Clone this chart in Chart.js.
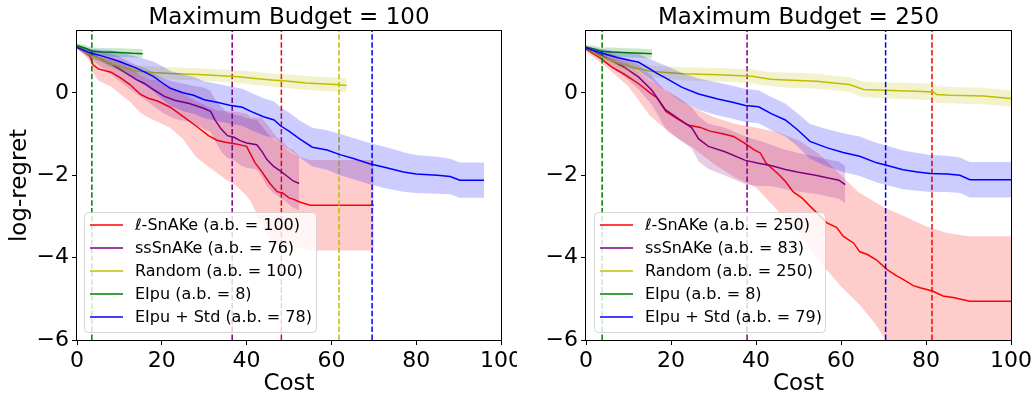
<!DOCTYPE html>
<html><head><meta charset="utf-8">
<script src="https://cdn.jsdelivr.net/npm/chart.js@4.4.0/dist/chart.umd.min.js"></script>
<style>
html,body{margin:0;padding:0;background:#fff;overflow:hidden}
#wrap{position:relative;width:1034px;height:393px;background:#fff}
canvas{position:absolute;top:0}
</style></head>
<body><div id="wrap">
<canvas id="c1" width="517" height="393" style="left:0"></canvas>
<canvas id="c2" width="517" height="393" style="left:517px"></canvas>
</div>
<script>
// ---------- axes ----------
const X_TICKS = [0, 20, 40, 60, 80, 100];
const Y_TICKS = [-6, -4, -2, 0];
const Y_MIN = -6, Y_MAX = 1.5;

// ---------- LEFT: Maximum Budget = 100 ----------
const L_TITLE = 'Maximum Budget = 100';
const L_LABELS = ['\u2113-SnAKe (a.b. = 100)', 'ssSnAKe (a.b. = 76)', 'Random (a.b. = 100)', 'EIpu (a.b. = 8)', 'EIpu + Std (a.b. = 78)'];
const L_VLINES = [48.2, 36.6, 61.8, 3.5, 69.6]; // red, purple, yellow, green, blue

const L_RED_COST = [0,1.5,3,3.8,5,8,10,12.5,15,17,19,22,25,28,31,33,35,37.5,40,41,42,43.5,45.5,47.2,48.5,50,51,52.5,55,70];
const L_RED_MEAN = [1.12,1.02,0.9,0.68,0.58,0.5,0.38,0.2,-0.04,-0.14,-0.2,-0.35,-0.57,-0.8,-1.04,-1.15,-1.2,-1.24,-1.3,-1.5,-1.7,-1.9,-2.2,-2.4,-2.43,-2.55,-2.58,-2.65,-2.73,-2.73];
const L_RED_LO = [1.07,0.94,0.78,0.48,0.30,0.15,-0.02,-0.22,-0.49,-0.61,-0.70,-0.85,-1.12,-1.55,-1.80,-1.94,-2.10,-2.25,-2.50,-2.65,-2.85,-3.20,-3.55,-3.70,-3.68,-3.75,-3.78,-3.75,-3.83,-3.83];
const L_RED_HI = [1.17,1.10,1.02,0.88,0.86,0.85,0.78,0.62,0.41,0.33,0.30,0.15,-0.02,-0.20,-0.34,-0.43,-0.45,-0.46,-0.50,-0.60,-0.60,-0.60,-0.85,-1.10,-1.18,-1.35,-1.38,-1.55,-1.63,-1.63];

const L_PUR_COST = [0,3,6,8,10,14,16,18,20.5,23,26.5,30,31.5,32.5,34,35.5,37,38.5,40,42.4,43.6,44.8,46.3,48,49.5,51,52.4];
const L_PUR_MEAN = [1.12,0.95,0.80,0.70,0.58,0.32,0.22,0.08,-0.08,-0.18,-0.26,-0.38,-0.45,-0.65,-0.88,-1.04,-1.08,-1.16,-1.22,-1.26,-1.42,-1.62,-1.78,-1.90,-2.02,-2.14,-2.20];
const L_PUR_LO = [1.07,0.83,0.60,0.45,0.28,-0.03,-0.16,-0.32,-0.50,-0.63,-0.71,-0.88,-0.95,-1.15,-1.43,-1.59,-1.63,-1.76,-1.82,-1.86,-2.04,-2.27,-2.43,-2.55,-2.67,-2.79,-2.85];
const L_PUR_HI = [1.17,1.07,1.00,0.95,0.88,0.67,0.60,0.48,0.34,0.27,0.19,0.12,0.05,-0.15,-0.33,-0.49,-0.53,-0.56,-0.62,-0.66,-0.80,-0.97,-1.13,-1.25,-1.37,-1.49,-1.55];

const L_YEL_COST = [0,3,6,8,10,14,18,22,30,38,42,46,50,54,61,63.6];
const L_YEL_MEAN = [1.12,0.93,0.80,0.70,0.64,0.53,0.49,0.47,0.44,0.39,0.35,0.31,0.28,0.24,0.20,0.18];
const L_YEL_LO = [1.08,0.85,0.70,0.58,0.51,0.39,0.34,0.32,0.29,0.24,0.19,0.15,0.11,0.07,0.03,0.01];
const L_YEL_HI = [1.16,1.01,0.90,0.82,0.77,0.67,0.64,0.62,0.59,0.54,0.51,0.47,0.45,0.41,0.37,0.35];

const L_GRN_COST = [0,2,3.5,6,10,13,15.5];
const L_GRN_MEAN = [1.15,1.08,1.01,0.99,0.98,0.96,0.95];
const L_GRN_LO = [1.10,1.00,0.92,0.89,0.87,0.86,0.85];
const L_GRN_HI = [1.20,1.16,1.10,1.09,1.08,1.07,1.06];

const L_BLU_COST = [0,3,6,8,10,14,16,18,20,22,25,27.5,30,33,36,39,41,44,46.5,48,50,52.5,55.5,59,62,65,69,73,77,80,85,88,90.3,96];
const L_BLU_MEAN = [1.10,0.97,0.89,0.83,0.76,0.60,0.50,0.40,0.25,0.11,0.0,-0.06,-0.17,-0.23,-0.30,-0.35,-0.45,-0.58,-0.66,-0.80,-0.93,-1.12,-1.32,-1.39,-1.50,-1.59,-1.72,-1.82,-1.92,-1.97,-2.0,-2.03,-2.12,-2.12];
const L_BLU_LO = [1.07,0.87,0.74,0.63,0.54,0.32,0.18,0.04,-0.15,-0.31,-0.45,-0.51,-0.62,-0.68,-0.75,-0.80,-0.90,-1.03,-1.11,-1.25,-1.38,-1.57,-1.79,-1.87,-2.00,-2.09,-2.22,-2.32,-2.40,-2.43,-2.45,-2.46,-2.55,-2.55];
const L_BLU_HI = [1.13,1.07,1.04,1.03,0.98,0.88,0.82,0.76,0.65,0.53,0.45,0.39,0.28,0.22,0.15,0.10,0.0,-0.13,-0.21,-0.35,-0.48,-0.67,-0.85,-0.91,-1.0,-1.09,-1.22,-1.32,-1.44,-1.51,-1.55,-1.60,-1.69,-1.69];

// ---------- RIGHT: Maximum Budget = 250 ----------
const R_TITLE = 'Maximum Budget = 250';
const R_LABELS = ['\u2113-SnAKe (a.b. = 250)', 'ssSnAKe (a.b. = 83)', 'Random (a.b. = 250)', 'EIpu (a.b. = 8)', 'EIpu + Std (a.b. = 79)'];
const R_VLINES = [81.4, 37.9, null, 3.8, 70.5]; // red, purple, yellow (off-axis), green, blue

const R_RED_COST = [0,3.4,6,9,12.4,15.3,16.7,18.8,21.6,24,26.9,29.2,32.4,34.7,37.3,39.5,41,42.4,45.1,47,48.7,51,52.7,54.3,56.6,59,60.5,63,64.4,66.1,68.4,70.7,73,74.6,77,78.6,81.5,84,86.4,90.3,100];
const R_RED_MEAN = [1.06,0.84,0.63,0.45,0.22,-0.02,-0.12,-0.45,-0.64,-0.78,-0.84,-0.93,-1.0,-1.06,-1.22,-1.38,-1.46,-1.71,-1.96,-2.16,-2.40,-2.57,-2.75,-2.91,-3.15,-3.27,-3.48,-3.65,-3.86,-3.92,-4.06,-4.28,-4.44,-4.53,-4.68,-4.73,-4.81,-4.93,-4.97,-5.06,-5.06];
const R_RED_BAND_COST = [0,5,10,15,20,25,30,35,40,45,50,55,60,64,68,70.5,75,80,85,90,100];
const R_RED_LO = [1.00,0.60,0.15,-0.55,-1.00,-1.32,-1.72,-2.05,-2.30,-2.85,-3.40,-4.10,-4.70,-5.10,-5.60,-6.00,-6.30,-6.50,-6.60,-6.62,-6.62];
const R_RED_HI = [1.12,0.92,0.70,0.30,0.0,-0.35,-0.59,-0.75,-0.85,-0.95,-1.15,-1.50,-2.00,-2.40,-2.65,-2.80,-3.00,-3.24,-3.40,-3.48,-3.48];

const R_PUR_COST = [0,3.4,6,9,12.4,15.5,18.6,21.8,24.9,26.5,28.8,32.7,37.5,40.6,43.7,46.9,50,54,57,59.5,61];
const R_PUR_MEAN = [1.09,0.92,0.78,0.62,0.38,0.06,-0.40,-0.63,-0.85,-1.12,-1.30,-1.43,-1.64,-1.71,-1.77,-1.86,-1.93,-2.00,-2.07,-2.12,-2.23];
const R_PUR_LO = [1.04,0.80,0.60,0.40,0.08,-0.29,-0.85,-1.13,-1.35,-1.67,-1.85,-2.01,-2.22,-2.26,-2.27,-2.34,-2.40,-2.45,-2.52,-2.57,-2.68];
const R_PUR_HI = [1.14,1.04,0.96,0.84,0.68,0.41,0.05,-0.13,-0.35,-0.57,-0.75,-0.85,-1.06,-1.16,-1.27,-1.38,-1.46,-1.55,-1.62,-1.67,-1.78];

const R_YEL_COST = [0,3.4,7.5,11,15.3,19,23,31,39,43.5,47,54.3,58.2,62,65.3,70,77.8,81.7,82.5,85.7,93.5,100];
const R_YEL_MEAN = [1.09,0.89,0.72,0.62,0.52,0.49,0.46,0.44,0.40,0.33,0.31,0.28,0.24,0.20,0.08,0.06,0.04,0.02,-0.04,-0.06,-0.08,-0.14];
const R_YEL_LO = [1.05,0.81,0.62,0.50,0.38,0.34,0.30,0.28,0.23,0.16,0.13,0.10,0.06,0.02,-0.11,-0.13,-0.16,-0.18,-0.24,-0.26,-0.28,-0.34];
const R_YEL_HI = [1.13,0.97,0.82,0.74,0.66,0.64,0.62,0.60,0.57,0.50,0.49,0.46,0.42,0.38,0.27,0.25,0.24,0.22,0.16,0.14,0.12,0.06];

const R_GRN_COST = [0,2,3.5,6,10,13,15.5];
const R_GRN_MEAN = [1.11,1.06,1.01,0.99,0.97,0.96,0.95];
const R_GRN_LO = [1.06,0.98,0.92,0.88,0.86,0.85,0.84];
const R_GRN_HI = [1.16,1.14,1.10,1.10,1.08,1.07,1.06];

const R_BLU_COST = [0,3.4,7.5,12.4,15.3,16.7,18.6,22.6,26.5,31,34.5,37.5,40.6,43.7,46.9,49.7,52.7,56.6,60.5,64.4,68.4,70.7,74.6,78,81,85,88,90.3,100];
const R_BLU_MEAN = [1.09,0.97,0.85,0.74,0.56,0.47,0.37,0.13,-0.03,-0.15,-0.23,-0.31,-0.34,-0.51,-0.66,-0.89,-1.18,-1.33,-1.45,-1.54,-1.70,-1.76,-1.87,-1.92,-1.96,-1.97,-2.0,-2.11,-2.11];
const R_BLU_LO = [1.06,0.87,0.70,0.54,0.31,0.19,0.07,-0.22,-0.41,-0.55,-0.63,-0.71,-0.74,-0.91,-1.06,-1.29,-1.60,-1.78,-1.92,-2.02,-2.18,-2.24,-2.34,-2.38,-2.41,-2.41,-2.43,-2.54,-2.54];
const R_BLU_HI = [1.12,1.07,1.00,0.94,0.81,0.75,0.67,0.48,0.35,0.25,0.17,0.09,0.06,-0.11,-0.26,-0.49,-0.76,-0.88,-0.98,-1.06,-1.22,-1.28,-1.40,-1.46,-1.51,-1.53,-1.57,-1.68,-1.68];

// ---------- styling ----------
const COLORS = ['#ff0000', '#800080', '#bfbf00', '#008000', '#0000ff'];
const BANDS = ['rgba(255,0,0,0.2)', 'rgba(128,0,128,0.2)', 'rgba(191,191,0,0.2)', 'rgba(0,128,0,0.2)', 'rgba(0,0,255,0.2)'];
const FONT = "'DejaVu Sans', 'Liberation Sans', sans-serif";

function pts(xs, ys) { return xs.map((x, i) => ({x: x, y: ys[i]})); }
function minusFmt(v) { return v < 0 ? '\u2212' + Math.abs(v) : String(v); }

function makeChart(id, cfg) {
  const datasets = [];
  cfg.series.forEach((s, i) => {
    const base = 1000 - i * 10;
    const bc = s.bandCost || s.cost;
    datasets.push({data: pts(bc, s.hi), borderColor: 'rgba(0,0,0,0)', borderWidth: 0, pointRadius: 0,
      fill: '+1', backgroundColor: BANDS[i], order: base, tension: 0});
    datasets.push({data: pts(bc, s.lo), borderColor: 'rgba(0,0,0,0)', borderWidth: 0, pointRadius: 0,
      fill: false, order: base, tension: 0});
    datasets.push({data: pts(s.cost, s.mean), borderColor: COLORS[i], borderWidth: 1.5, pointRadius: 0,
      fill: false, order: base - 1, tension: 0});
    if (cfg.vlines[i] !== null) {
      datasets.push({data: [{x: cfg.vlines[i], y: Y_MIN}, {x: cfg.vlines[i], y: Y_MAX}], borderColor: COLORS[i],
        borderWidth: 1.5, borderDash: [5.5, 2.4], pointRadius: 0, fill: false, order: base - 2});
    }
  });

  const decor = {
    id: 'decor',
    afterDraw(chart) {
      const ctx = chart.ctx, a = chart.chartArea;
      ctx.save();
      // frame
      ctx.strokeStyle = '#000'; ctx.lineWidth = 1;
      ctx.strokeRect(Math.round(a.left) - 0.5, Math.round(a.top) - 0.5, Math.round(a.right - a.left) + 1, Math.round(a.bottom - a.top) + 1);
      // title
      ctx.fillStyle = '#000'; ctx.font = '23px ' + FONT; ctx.textAlign = 'center'; ctx.textBaseline = 'alphabetic';
      ctx.fillText(cfg.title, (a.left + a.right) / 2, 24);
      // legend
      const L = cfg.legend;
      ctx.beginPath();
      if (ctx.roundRect) ctx.roundRect(L.x0 + 0.5, L.y0 + 0.5, L.x1 - L.x0, L.y1 - L.y0, 4);
      else ctx.rect(L.x0 + 0.5, L.y0 + 0.5, L.x1 - L.x0, L.y1 - L.y0);
      ctx.fillStyle = 'rgba(255,255,255,0.8)'; ctx.fill();
      ctx.strokeStyle = 'rgba(204,204,204,0.8)'; ctx.lineWidth = 1; ctx.stroke();
      ctx.font = '16px ' + FONT; ctx.textAlign = 'left'; ctx.textBaseline = 'middle';
      cfg.labels.forEach((t, i) => {
        const y = L.row0 + i * 23;
        ctx.strokeStyle = COLORS[i]; ctx.lineWidth = 1.5;
        ctx.beginPath(); ctx.moveTo(L.sx, y); ctx.lineTo(L.sx + 33, y); ctx.stroke();
        ctx.fillStyle = '#000'; ctx.fillText(t, L.tx, y + 1);
      });
      ctx.restore();
    }
  };

  return new Chart(document.getElementById(id), {
    type: 'line',
    data: {datasets},
    plugins: [decor],
    options: {
      responsive: false, animation: false, devicePixelRatio: 1,
      layout: {padding: {left: 0, right: cfg.padRight, top: 31, bottom: 0}},
      plugins: {legend: {display: false}, tooltip: {enabled: false}, title: {display: false}},
      scales: {
        x: {
          type: 'linear', min: 0, max: 100,
          afterBuildTicks: s => { s.ticks = X_TICKS.map(v => ({value: v})); },
          afterFit: s => { s.height = 53; s.paddingLeft = 0; s.paddingRight = 0; },
          grid: {drawOnChartArea: false, tickLength: 5, tickColor: '#000', color: '#000'},
          border: {display: false},
          ticks: {color: '#000', font: {family: FONT, size: 22}, padding: 3, maxRotation: 0, autoSkip: false},
          title: {display: true, text: 'Cost', color: '#000', font: {family: FONT, size: 23}, padding: {top: 0, bottom: -5}}
        },
        y: {
          type: 'linear', min: Y_MIN, max: Y_MAX,
          afterBuildTicks: s => { s.ticks = Y_TICKS.map(v => ({value: v})); },
          afterFit: s => { s.width = cfg.areaLeft; s.paddingTop = 0; s.paddingBottom = 0; },
          grid: {drawOnChartArea: false, tickLength: 5, tickColor: '#000', color: '#000'},
          border: {display: false},
          ticks: {color: '#000', font: {family: FONT, size: 22}, padding: 3, callback: v => minusFmt(v)},
          title: {display: cfg.yTitle, text: 'log-regret', color: '#000', font: {family: FONT, size: 23}, padding: {top: 6, bottom: 0}}
        }
      }
    }
  });
}

makeChart('c1', {
  title: L_TITLE, labels: L_LABELS, vlines: L_VLINES, areaLeft: 77, padRight: 16, yTitle: true,
  legend: {x0: 84, y0: 212, x1: 316, y1: 332, sx: 90, tx: 135, row0: 225},
  series: [
    {cost: L_RED_COST, mean: L_RED_MEAN, lo: L_RED_LO, hi: L_RED_HI},
    {cost: L_PUR_COST, mean: L_PUR_MEAN, lo: L_PUR_LO, hi: L_PUR_HI},
    {cost: L_YEL_COST, mean: L_YEL_MEAN, lo: L_YEL_LO, hi: L_YEL_HI},
    {cost: L_GRN_COST, mean: L_GRN_MEAN, lo: L_GRN_LO, hi: L_GRN_HI},
    {cost: L_BLU_COST, mean: L_BLU_MEAN, lo: L_BLU_LO, hi: L_BLU_HI}
  ]
});
makeChart('c2', {
  title: R_TITLE, labels: R_LABELS, vlines: R_VLINES, areaLeft: 69, padRight: 23, yTitle: false,
  legend: {x0: 77, y0: 212, x1: 308, y1: 332, sx: 83, tx: 128, row0: 225},
  series: [
    {cost: R_RED_COST, mean: R_RED_MEAN, bandCost: R_RED_BAND_COST, lo: R_RED_LO, hi: R_RED_HI},
    {cost: R_PUR_COST, mean: R_PUR_MEAN, lo: R_PUR_LO, hi: R_PUR_HI},
    {cost: R_YEL_COST, mean: R_YEL_MEAN, lo: R_YEL_LO, hi: R_YEL_HI},
    {cost: R_GRN_COST, mean: R_GRN_MEAN, lo: R_GRN_LO, hi: R_GRN_HI},
    {cost: R_BLU_COST, mean: R_BLU_MEAN, lo: R_BLU_LO, hi: R_BLU_HI}
  ]
});
</script>
</body></html>
